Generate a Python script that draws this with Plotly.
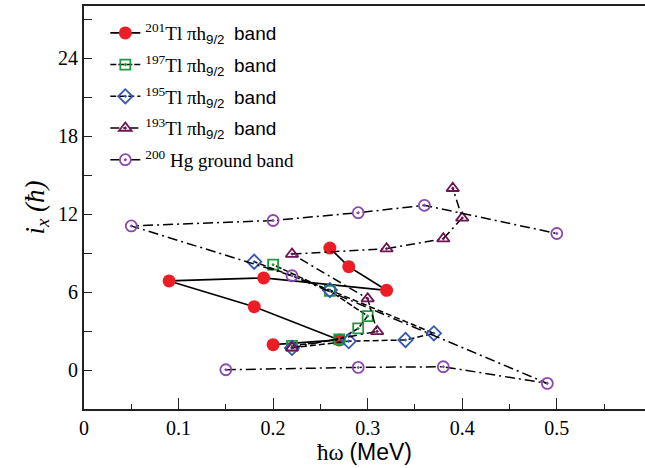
import plotly.graph_objects as go

# hbar*omega (MeV) and aligned angular momentum i_x (hbar)
tl201_x = [0.20, 0.27, 0.18, 0.09, 0.19, 0.32, 0.28, 0.26]
tl201_y = [1.95, 2.31, 4.87, 6.85, 7.08, 6.13, 7.95, 9.38]

tl197_x = [0.22, 0.27, 0.29, 0.30, 0.26, 0.20]
tl197_y = [1.85, 2.35, 3.20, 4.15, 6.08, 8.10]

tl195_x = [0.22, 0.28, 0.34, 0.37, 0.26, 0.18]
tl195_y = [1.70, 2.22, 2.31, 2.82, 6.15, 8.33]

tl193_x = [0.22, 0.31, 0.30, 0.22, 0.32, 0.38, 0.40, 0.39]
tl193_y = [1.72, 2.97, 5.49, 8.92, 9.33, 10.10, 11.70, 13.98]

hg200_x = [0.15, 0.29, 0.38, 0.49, 0.22, 0.05, 0.20, 0.29, 0.36, 0.50]
hg200_y = [0.02, 0.20, 0.25, -1.03, 7.25, 11.08, 11.50, 12.10, 12.67, 10.50]

x_ticks = [0, 0.1, 0.2, 0.3, 0.4, 0.5, 0.6]
y_ticks = [0, 6, 12, 18, 24]

SERIF = "Liberation Serif"


def label(mass):
    return (f'<sup>{mass}</sup>Tl πh<sub><span style="font-family:Liberation Sans">9/2</span></sub>'
            f'  <span style="font-family:Liberation Sans">band</span>')


series = [
    (tl201_x, tl201_y, label(201), "circle", "#ee1c25", 13, "solid", 1.7),
    (tl197_x, tl197_y, label(197), "square-open-dot", "#1e9a3e", 10, "6px,2px", 1.5),
    (tl195_x, tl195_y, label(195), "diamond-open-dot", "#3558b5", 11, "6px,3px", 1.5),
    (tl193_x, tl193_y, label(193), "triangle-up-open-dot", "#6e1452", 11, "9px,4px,2px,4px", 1.5),
    (hg200_x, hg200_y, "<sup>200</sup> Hg ground band", "circle-open-dot", "#8a48b0", 11, "10px,4px,2px,4px", 1.5),
]

fig = go.Figure()
for i, (xs, ys, name, sym, col, size, dash, lw) in enumerate(series):
    mk = dict(symbol=sym, size=size, color=col)
    if "open" in sym:
        mk["line"] = dict(color=col, width=1.8)
    else:
        mk["line"] = dict(color=col, width=0)
    fig.add_trace(go.Scatter(
        x=xs, y=ys, mode="lines+markers", name=name, legendgroup=f"g{i}",
        line=dict(color="black", width=lw, dash=dash),
        marker=mk,
    ))

fig.update_layout(
    width=645, height=468,
    margin=dict(l=84, r=0, t=6, b=59),
    paper_bgcolor="white", plot_bgcolor="white",
    font=dict(family=SERIF, size=19, color="black"),
    showlegend=True,
    legend=dict(x=0.038, y=0.98, xanchor="left", yanchor="top",
                bgcolor="rgba(0,0,0,0)", font=dict(family=SERIF, size=19),
                tracegroupgap=4, itemwidth=30),
    xaxis=dict(range=[0, 0.5933], tickvals=x_ticks, ticktext=[f"{v:g}" for v in x_ticks],
               showgrid=False, zeroline=False, showline=True, linecolor="#222", linewidth=2,
               mirror=True, ticks="inside", ticklen=11, tickwidth=1.2, tickcolor="#222",
               minor=dict(dtick=0.05, ticks="inside", ticklen=5, tickcolor="#222", tickwidth=1.2),
               tickfont=dict(family=SERIF, size=20),
               title=dict(text='ħω <span style="font-family:Liberation Sans">(MeV)</span>',
                          font=dict(family=SERIF, size=23), standoff=6)),
    yaxis=dict(range=[-3, 28], tickvals=y_ticks, showgrid=False, zeroline=False,
               showline=True, linecolor="#222", linewidth=2,
               ticks="inside", ticklen=8, tickwidth=1.2, tickcolor="#222",
               minor=dict(dtick=3, ticks="inside", ticklen=8, tickcolor="#222", tickwidth=1.2),
               tickfont=dict(family=SERIF, size=20),
               title=dict(text="<i>i</i><sub><i>x</i></sub> <i>(ħ)</i>",
                          font=dict(family=SERIF, size=27), standoff=6)),
)

fig.write_html("out.html")
